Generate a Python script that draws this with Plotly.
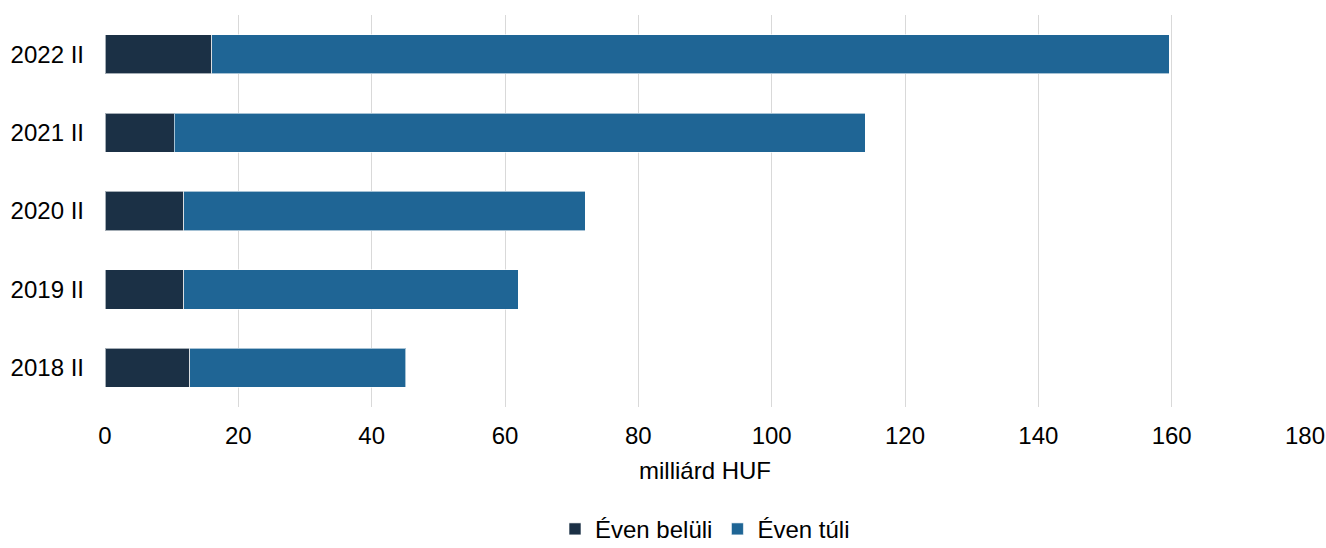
import plotly.graph_objects as go

categories = ["2018 II", "2019 II", "2020 II", "2021 II", "2022 II"]
even_beluli = [12.7, 11.8, 11.8, 10.4, 16.0]
even_tuli = [32.4, 50.2, 60.2, 103.6, 143.6]
x_ticks = [0, 20, 40, 60, 80, 100, 120, 140, 160, 180]

fig = go.Figure()
fig.add_trace(go.Bar(y=categories, x=even_beluli, name="Éven belüli", orientation="h",
                     marker=dict(color="#1b3045", line=dict(color="rgba(255,255,255,0.6)", width=1))))
fig.add_trace(go.Bar(y=categories, x=even_tuli, name="Éven túli", orientation="h",
                     marker=dict(color="#1f6595", line=dict(color="rgba(255,255,255,0.6)", width=1))))

fig.update_layout(
    barmode="stack",
    bargap=0.5,
    width=1326, height=548,
    margin=dict(l=105, r=21, t=15, b=141, autoexpand=False),
    plot_bgcolor="white", paper_bgcolor="white",
    font=dict(family="Liberation Sans, Arial, sans-serif", size=24, color="#000000"),
    xaxis=dict(range=[0, 180], tickvals=x_ticks, showgrid=True, gridcolor="#d9d9d9", gridwidth=1,
               zeroline=False, showline=False, ticks="", ticklabelstandoff=12,
               title=dict(text="milliárd HUF", standoff=14, font=dict(size=24))),
    yaxis=dict(showgrid=False, zeroline=False, showline=False, ticks="", ticklabelstandoff=20),
    legend=dict(orientation="h", x=0.5, xanchor="center", y=-0.312, yanchor="middle",
                traceorder="normal", font=dict(size=24), itemwidth=30,
                bgcolor="rgba(0,0,0,0)"),
)

fig.write_html("out.html", config={"displayModeBar": False},
               post_script="document.body.style.margin='0';document.body.style.overflow='hidden';")
